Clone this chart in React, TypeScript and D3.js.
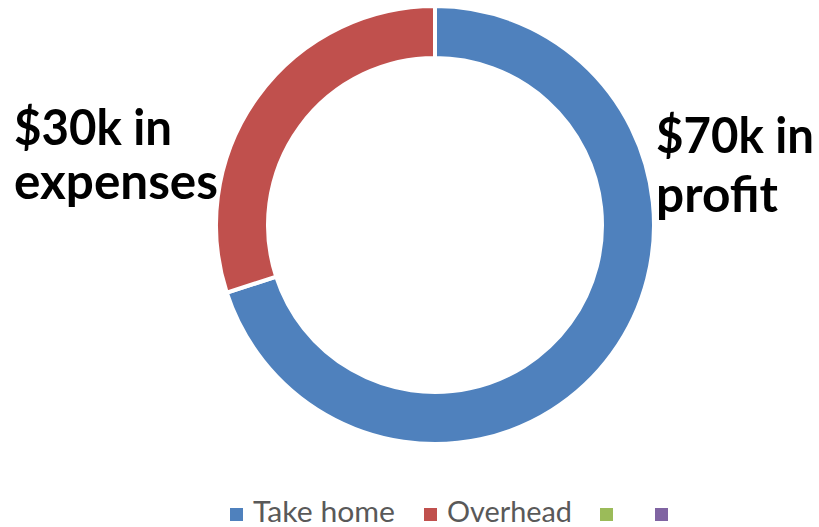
import React from "react";
import * as d3 from "d3";

const categories = ["Take home", "Overhead", "", ""];
const values = [70, 30, 0, 0];
const colors = ["#4F81BD", "#C0504D", "#9BBB59", "#8064A2"];
const leftLabel = ["$30k in", "expenses"];
const rightLabel = ["$70k in", "profit"];

const W = 819;
const H = 527;

export default function App() {
  const cx = 435, cy = 225;
  const pie = d3.pie<number>().sort(null).value((d) => d)(values);
  const arc = d3.arc<d3.PieArbitraryArcDatum<number>>().innerRadius(167).outerRadius(219);
  const legendX = [230, 424, 600, 655];
  const font = "Lato, 'Open Sans', sans-serif";
  return (
    <svg width={W} height={H} style={{ position: "absolute", left: 0, top: 0, background: "#fff" }}>
      <g transform={`translate(${cx},${cy})`}>
        {pie.map((p, i) =>
          p.endAngle > p.startAngle ? (
            <path key={i} d={arc(p as any) || ""} fill={colors[i]} stroke="#fff" strokeWidth={4} strokeLinejoin="miter" />
          ) : null
        )}
      </g>
      <g fontFamily={font} fontWeight="bold" fontSize={50} fill="#000">
        <text x={14} y={145} textLength={158} lengthAdjust="spacingAndGlyphs">{leftLabel[0]}</text>
        <text x={14} y={199} textLength={204} lengthAdjust="spacingAndGlyphs">{leftLabel[1]}</text>
        <text x={656} y={153} textLength={158} lengthAdjust="spacingAndGlyphs">{rightLabel[0]}</text>
        <text x={656} y={212} textLength={122} lengthAdjust="spacingAndGlyphs">{rightLabel[1]}</text>
      </g>
      <g fontFamily={font} fontSize={29} fill="#595959">
        {categories.map((c, i) => (
          <g key={i}>
            <rect x={legendX[i]} y={508} width={13} height={13} fill={colors[i]} />
            {c ? (
              <text x={legendX[i] + 23} y={522} textLength={i === 0 ? 142 : 125} lengthAdjust="spacingAndGlyphs">{c}</text>
            ) : null}
          </g>
        ))}
      </g>
    </svg>
  );
}
